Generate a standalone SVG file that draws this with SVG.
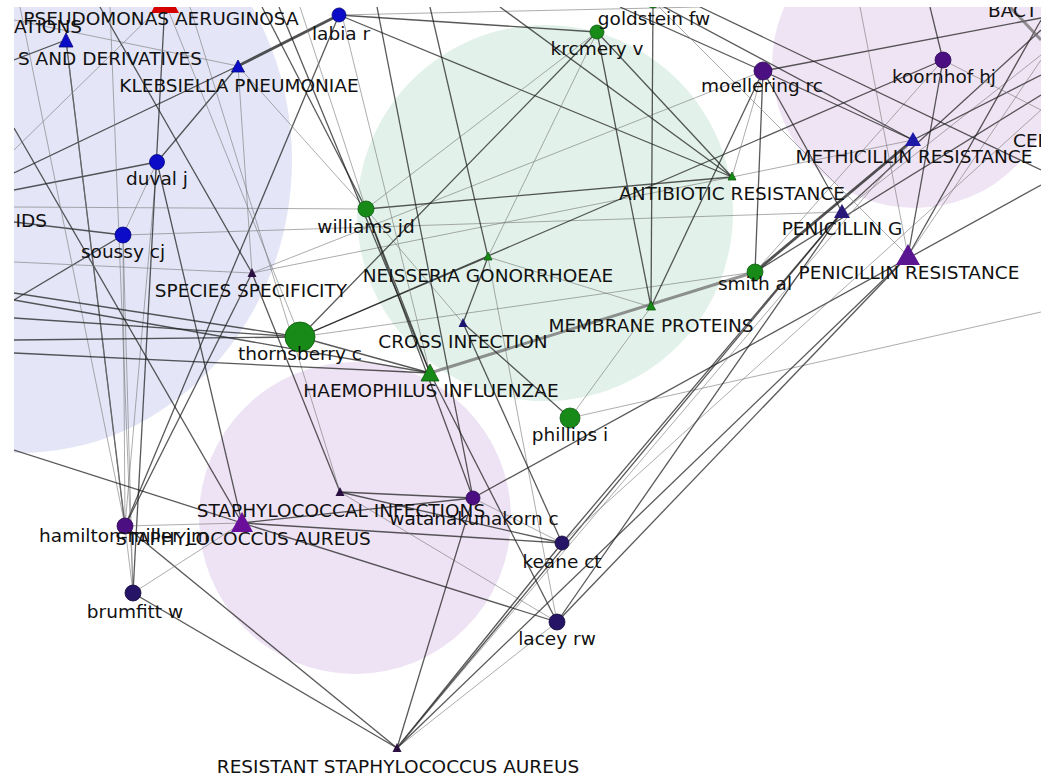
<svg xmlns="http://www.w3.org/2000/svg" width="1050" height="776" viewBox="0 0 1050 776">
  <style>
    .lbl { font-family: "DejaVu Sans", "Liberation Sans", sans-serif; font-size: 18.5px; fill: #111; text-anchor: middle; }
    .e { stroke: #222; stroke-width: 1.3; stroke-opacity: 0.75; }
    .l { stroke: #777; stroke-width: 1; stroke-opacity: 0.6; }
    .t { stroke: #333; stroke-width: 2.8; stroke-opacity: 0.85; }
    .tl { stroke: #666; stroke-width: 3; stroke-opacity: 0.7; }
    .blue { fill: #0b0bc8; stroke: #06067a; stroke-width: 0.8; }
    .green { fill: #178a17; stroke: #0c5a0c; stroke-width: 0.8; }
    .purple { fill: #4b0f82; stroke: #2a0850; stroke-width: 0.8; }
    .navy { fill: #261566; stroke: #140b3a; stroke-width: 0.8; }
    .dark { fill: #2a0f40; }
  </style>
  <defs>
    <clipPath id="frame"><rect x="14" y="7" width="1027" height="769"/></clipPath>
  </defs>
  <rect width="1050" height="776" fill="#fff"/>
  <g clip-path="url(#frame)">
    <!-- community backgrounds -->
    <g id="clusters">
      <ellipse cx="20" cy="160" rx="272" ry="293" fill="#e4e6f7"/>
      <circle cx="545" cy="213" r="188" fill="#e2f2ea"/>
      <circle cx="915" cy="65" r="143" fill="#efe4f4"/>
      <circle cx="355" cy="518" r="156" fill="#eee3f4"/>
    </g>

    <!-- connectors -->
    <g id="edges">
      <line class="t" x1="339" y1="15" x2="238" y2="66"/>
      <line class="e" x1="339" y1="15" x2="597" y2="32"/>
      <line class="e" x1="339" y1="15" x2="732" y2="177"/>
      <line class="l" x1="339" y1="15" x2="700" y2="7"/>
      <line class="e" x1="339" y1="15" x2="125" y2="526"/>
      <line class="e" x1="14" y1="173" x2="238" y2="66"/>
      <line class="e" x1="157" y1="162" x2="238" y2="66"/>
      <line class="e" x1="157" y1="162" x2="14" y2="190"/>
      <line class="l" x1="157" y1="162" x2="123" y2="235"/>
      <line class="e" x1="157" y1="162" x2="242" y2="523"/>
      <line class="l" x1="157" y1="162" x2="125" y2="526"/>
      <line class="l" x1="123" y1="235" x2="842" y2="212"/>
      <line class="e" x1="14" y1="222" x2="123" y2="235"/>
      <line class="e" x1="14" y1="300" x2="123" y2="235"/>
      <line class="l" x1="123" y1="235" x2="133" y2="593"/>
      <line class="l" x1="123" y1="235" x2="125" y2="526"/>
      <line class="e" x1="14" y1="128" x2="242" y2="523"/>
      <line class="e" x1="66" y1="40" x2="125" y2="526"/>
      <line class="l" x1="66" y1="40" x2="133" y2="593"/>
      <line class="l" x1="20" y1="7" x2="125" y2="526"/>
      <line class="l" x1="110" y1="7" x2="133" y2="593"/>
      <line class="e" x1="165" y1="2" x2="133" y2="593"/>
      <line class="l" x1="165" y1="2" x2="14" y2="150"/>
      <line class="l" x1="165" y1="2" x2="300" y2="337"/>
      <line class="e" x1="66" y1="40" x2="14" y2="60"/>
      <line class="l" x1="14" y1="20" x2="238" y2="66"/>
      <line class="l" x1="238" y1="66" x2="366" y2="209"/>
      <line class="l" x1="14" y1="207" x2="366" y2="209"/>
      <line class="e" x1="252" y1="273" x2="125" y2="526"/>
      <line class="e" x1="252" y1="273" x2="340" y2="492"/>
      <line class="l" x1="252" y1="273" x2="732" y2="177"/>
      <line class="l" x1="252" y1="273" x2="763" y2="71"/>
      <line class="l" x1="14" y1="262" x2="252" y2="273"/>
      <line class="l" x1="238" y1="66" x2="252" y2="273"/>
      <line class="e" x1="100" y1="7" x2="252" y2="273"/>
      <line class="l" x1="190" y1="7" x2="340" y2="492"/>
      <line class="e" x1="14" y1="293" x2="300" y2="337"/>
      <line class="e" x1="14" y1="318" x2="300" y2="337"/>
      <line class="e" x1="14" y1="340" x2="300" y2="337"/>
      <line class="e" x1="14" y1="300" x2="430" y2="373"/>
      <line class="e" x1="14" y1="353" x2="430" y2="373"/>
      <line class="e" x1="300" y1="337" x2="430" y2="373"/>
      <line class="e" x1="300" y1="337" x2="488" y2="257"/>
      <line class="l" x1="300" y1="337" x2="755" y2="272"/>
      <line class="e" x1="597" y1="32" x2="300" y2="337"/>
      <line class="e" x1="943" y1="60" x2="300" y2="337"/>
      <line class="e" x1="14" y1="450" x2="242" y2="523"/>
      <line class="e" x1="366" y1="209" x2="732" y2="177"/>
      <line class="l" x1="597" y1="32" x2="366" y2="209"/>
      <line class="e" x1="262" y1="7" x2="366" y2="209"/>
      <line class="l" x1="300" y1="7" x2="366" y2="209"/>
      <line class="e" x1="366" y1="209" x2="430" y2="373"/>
      <line class="e" x1="279" y1="7" x2="430" y2="373"/>
      <line class="e" x1="366" y1="209" x2="473" y2="498"/>
      <line class="l" x1="366" y1="209" x2="463" y2="323"/>
      <line class="e" x1="377" y1="7" x2="473" y2="498"/>
      <line class="l" x1="340" y1="7" x2="430" y2="373"/>
      <line class="e" x1="488" y1="257" x2="463" y2="323"/>
      <line class="e" x1="430" y1="7" x2="488" y2="257"/>
      <line class="l" x1="488" y1="257" x2="651" y2="307"/>
      <line class="l" x1="488" y1="257" x2="557" y2="622"/>
      <line class="l" x1="488" y1="257" x2="597" y2="32"/>
      <line class="e" x1="653" y1="1" x2="651" y2="307"/>
      <line class="tl" x1="430" y1="373" x2="755" y2="272"/>
      <line class="e" x1="597" y1="32" x2="651" y2="307"/>
      <line class="l" x1="570" y1="418" x2="651" y2="307"/>
      <line class="e" x1="651" y1="307" x2="763" y2="71"/>
      <line class="e" x1="597" y1="32" x2="732" y2="177"/>
      <line class="l" x1="732" y1="177" x2="913" y2="140"/>
      <line class="e" x1="500" y1="7" x2="732" y2="177"/>
      <line class="t" x1="755" y1="272" x2="913" y2="140"/>
      <line class="e" x1="763" y1="71" x2="755" y2="272"/>
      <line class="l" x1="755" y1="272" x2="943" y2="60"/>
      <line class="e" x1="755" y1="272" x2="1041" y2="95"/>
      <line class="e" x1="463" y1="323" x2="570" y2="418"/>
      <line class="l" x1="570" y1="418" x2="1041" y2="312"/>
      <line class="e" x1="842" y1="212" x2="763" y2="71"/>
      <line class="e" x1="842" y1="212" x2="1041" y2="30"/>
      <line class="l" x1="842" y1="212" x2="1041" y2="55"/>
      <line class="e" x1="908" y1="256" x2="943" y2="60"/>
      <line class="e" x1="908" y1="256" x2="1041" y2="20"/>
      <line class="l" x1="908" y1="256" x2="1041" y2="60"/>
      <line class="e" x1="913" y1="140" x2="1041" y2="75"/>
      <line class="e" x1="943" y1="60" x2="930" y2="7"/>
      <line class="l" x1="943" y1="60" x2="1041" y2="110"/>
      <line class="e" x1="763" y1="71" x2="1041" y2="18"/>
      <line class="e" x1="763" y1="71" x2="620" y2="7"/>
      <line class="e" x1="763" y1="71" x2="913" y2="140"/>
      <line class="l" x1="763" y1="71" x2="732" y2="177"/>
      <line class="l" x1="653" y1="1" x2="908" y2="256"/>
      <line class="e" x1="653" y1="1" x2="913" y2="140"/>
      <line class="e" x1="700" y1="7" x2="1041" y2="170"/>
      <line class="l" x1="860" y1="7" x2="908" y2="256"/>
      <line class="tl" x1="1010" y1="7" x2="1041" y2="40"/>
      <line class="e" x1="340" y1="492" x2="473" y2="498"/>
      <line class="e" x1="340" y1="492" x2="562" y2="543"/>
      <line class="e" x1="242" y1="523" x2="562" y2="543"/>
      <line class="e" x1="242" y1="523" x2="473" y2="498"/>
      <line class="e" x1="242" y1="523" x2="557" y2="622"/>
      <line class="l" x1="340" y1="492" x2="557" y2="622"/>
      <line class="l" x1="473" y1="498" x2="562" y2="543"/>
      <line class="e" x1="473" y1="498" x2="1041" y2="185"/>
      <line class="e" x1="397" y1="748" x2="125" y2="526"/>
      <line class="e" x1="397" y1="748" x2="133" y2="593"/>
      <line class="e" x1="397" y1="748" x2="473" y2="498"/>
      <line class="e" x1="397" y1="748" x2="562" y2="543"/>
      <line class="l" x1="397" y1="748" x2="557" y2="622"/>
      <line class="e" x1="397" y1="748" x2="842" y2="212"/>
      <line class="e" x1="397" y1="748" x2="908" y2="256"/>
      <line class="l" x1="397" y1="748" x2="913" y2="140"/>
      <line class="e" x1="562" y1="543" x2="842" y2="212"/>
      <line class="e" x1="562" y1="543" x2="463" y2="323"/>
      <line class="l" x1="562" y1="543" x2="1041" y2="110"/>
      <line class="e" x1="557" y1="622" x2="842" y2="212"/>
      <line class="e" x1="557" y1="622" x2="908" y2="256"/>
      <line class="e" x1="557" y1="622" x2="430" y2="373"/>
      <line class="l" x1="133" y1="593" x2="242" y2="523"/>
      <line class="l" x1="125" y1="526" x2="242" y2="523"/>
    </g>

    <!-- nodes -->
    <g id="node-pseudomonas"><polygon points="165,-14 151,13 179,13" fill="#d40000"/></g>
    <g id="node-ations"><polygon points="66,33 59,47 73,47" class="blue"/></g>
    <g id="node-klebsiella"><polygon points="238,60 231.5,72 244.5,72" class="blue"/></g>
    <g id="node-labia"><circle cx="339" cy="15" r="7" class="blue"/></g>
    <g id="node-duval"><circle cx="157" cy="162" r="7.5" class="blue"/></g>
    <g id="node-soussy"><circle cx="123" cy="235" r="8" class="blue"/></g>
    <g id="node-goldstein"><circle cx="653" cy="1" r="7" class="green"/></g>
    <g id="node-krcmery"><circle cx="597" cy="32" r="7" class="green"/></g>
    <g id="node-williams"><circle cx="366" cy="209" r="8" class="green"/></g>
    <g id="node-neisseria"><polygon points="488,252 484,260 492,260" class="green"/></g>
    <g id="node-antibiotic"><polygon points="732,172 728,180 736,180" class="green"/></g>
    <g id="node-membrane"><polygon points="651,301 646.5,310 655.5,310" class="green"/></g>
    <g id="node-smith"><circle cx="755" cy="272" r="8" class="green"/></g>
    <g id="node-thornsberry"><circle cx="300" cy="337" r="15" class="green"/></g>
    <g id="node-haemophilus"><polygon points="430,364 421,381 439,381" class="green"/></g>
    <g id="node-phillips"><circle cx="570" cy="418" r="10" class="green"/></g>
    <g id="node-cross"><polygon points="463,318 458.5,327 467.5,327" fill="#1c1570"/></g>
    <g id="node-species"><polygon points="252,268 247.5,277 256.5,277" class="dark"/></g>
    <g id="node-moellering"><circle cx="763" cy="71" r="9" class="purple"/></g>
    <g id="node-koornhof"><circle cx="943" cy="60" r="8" class="purple"/></g>
    <g id="node-methicillin"><polygon points="913,132 905,146 921,146" fill="#1c18a8"/></g>
    <g id="node-penicillin-g"><polygon points="842,204 834,218 850,218" fill="#2a1878"/></g>
    <g id="node-penicillin-res"><polygon points="908,244 896,265 920,265" fill="#5a1690"/></g>
    <g id="node-staph-inf"><polygon points="340,487 335.5,496 344.5,496" class="dark"/></g>
    <g id="node-watanakunakorn"><circle cx="473" cy="498" r="7" class="purple"/></g>
    <g id="node-staph-aureus"><polygon points="242,512 231,532 253,532" fill="#6a0f9a"/></g>
    <g id="node-hamilton"><circle cx="125" cy="526" r="8" class="purple"/></g>
    <g id="node-keane"><circle cx="562" cy="543" r="7" class="navy"/></g>
    <g id="node-brumfitt"><circle cx="133" cy="593" r="8" class="navy"/></g>
    <g id="node-lacey"><circle cx="557" cy="622" r="8" class="navy"/></g>
    <g id="node-resistant"><polygon points="397,743 392.5,752 401.5,752" class="dark"/></g>

    <!-- labels -->
    <g id="labels">
      <text class="lbl" x="161" y="25">PSEUDOMONAS AERUGINOSA</text>
      <text class="lbl" x="82" y="33" style="text-anchor:end">ATIONS</text>
      <text class="lbl" x="202" y="65" style="text-anchor:end">S AND DERIVATIVES</text>
      <text class="lbl" x="239" y="92">KLEBSIELLA PNEUMONIAE</text>
      <text class="lbl" x="341" y="40">labia r</text>
      <text class="lbl" x="157" y="185">duval j</text>
      <text class="lbl" x="47" y="227" style="text-anchor:end">IDS</text>
      <text class="lbl" x="123" y="258">soussy cj</text>
      <text class="lbl" x="654" y="25">goldstein fw</text>
      <text class="lbl" x="597" y="55">krcmery v</text>
      <text class="lbl" x="366" y="233">williams jd</text>
      <text class="lbl" x="488" y="282">NEISSERIA GONORRHOEAE</text>
      <text class="lbl" x="732" y="200">ANTIBIOTIC RESISTANCE</text>
      <text class="lbl" x="651" y="332">MEMBRANE PROTEINS</text>
      <text class="lbl" x="755" y="290">smith al</text>
      <text class="lbl" x="300" y="360">thornsberry c</text>
      <text class="lbl" x="431" y="397">HAEMOPHILUS INFLUENZAE</text>
      <text class="lbl" x="570" y="441">phillips i</text>
      <text class="lbl" x="463" y="348">CROSS INFECTION</text>
      <text class="lbl" x="251" y="297">SPECIES SPECIFICITY</text>
      <text class="lbl" x="762" y="92">moellering rc</text>
      <text class="lbl" x="944" y="83">koornhof hj</text>
      <text class="lbl" x="914" y="163">METHICILLIN RESISTANCE</text>
      <text class="lbl" x="1013" y="147" style="text-anchor:start">CEP</text>
      <text class="lbl" x="988" y="17" style="text-anchor:start">BACT</text>
      <text class="lbl" x="842" y="235">PENICILLIN G</text>
      <text class="lbl" x="909" y="279">PENICILLIN RESISTANCE</text>
      <text class="lbl" x="341" y="517">STAPHYLOCOCCAL INFECTIONS</text>
      <text class="lbl" x="474" y="525">watanakunakorn c</text>
      <text class="lbl" x="243" y="545">STAPHYLOCOCCUS AUREUS</text>
      <text class="lbl" x="124" y="542">hamilton-miller jm</text>
      <text class="lbl" x="562" y="568">keane ct</text>
      <text class="lbl" x="135" y="618">brumfitt w</text>
      <text class="lbl" x="557" y="645">lacey rw</text>
      <text class="lbl" x="398" y="773">RESISTANT STAPHYLOCOCCUS AUREUS</text>
    </g>
  </g>
</svg>
